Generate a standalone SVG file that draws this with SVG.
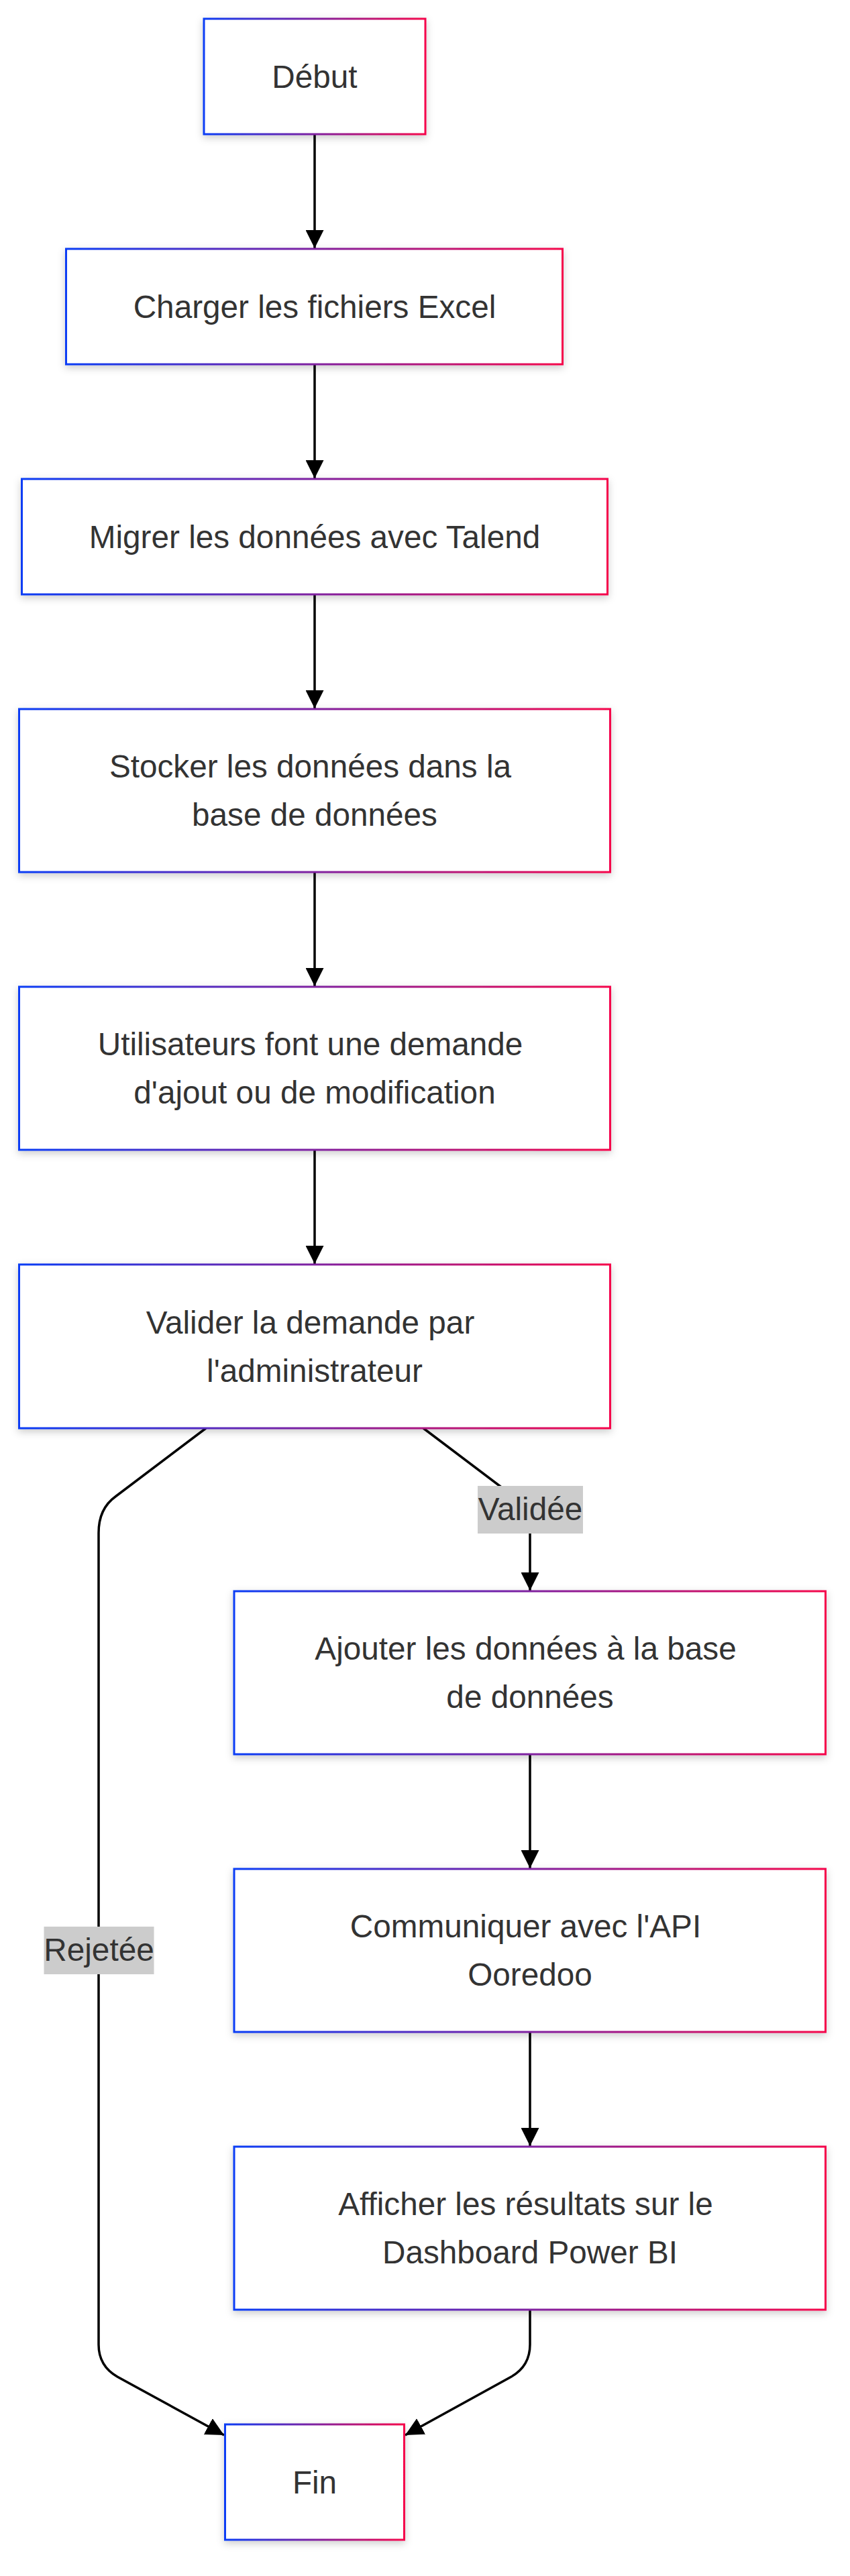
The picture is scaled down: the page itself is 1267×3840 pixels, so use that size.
<svg xmlns="http://www.w3.org/2000/svg" width="1267" height="3840" viewBox="0 0 1267 3840">
<defs>
<linearGradient id="grad" x1="0" y1="0" x2="1" y2="0">
<stop offset="0" stop-color="#0a3cf5"/>
<stop offset="1" stop-color="#f5064b"/>
</linearGradient>
<filter id="shadow" x="-10%" y="-20%" width="120%" height="150%">
<feDropShadow dx="0" dy="4" stdDeviation="6" flood-color="#000" flood-opacity="0.2"/>
</filter>
<marker id="arrow" markerUnits="userSpaceOnUse" viewBox="0 0 10 10" refX="10" refY="5" markerWidth="27" markerHeight="27" orient="auto">
<path d="M0,0 L10,5 L0,10 z" fill="#000"/>
</marker>
</defs>
<style>
.box{fill:#fff;stroke:url(#grad);stroke-width:3;filter:url(#shadow);}
.t{font-family:"Liberation Sans",Arial,Helvetica,sans-serif;font-size:47.7px;fill:#333;text-anchor:middle;}
.edge{fill:none;stroke:#000;stroke-width:3.5;marker-end:url(#arrow);}
.lbl{fill:#ccc;}
</style>
<rect width="1267" height="3840" fill="#fff"/>
<g id="edges">
<path class="edge" d="M469,200 L469,370"/>
<path class="edge" d="M469,543 L469,713"/>
<path class="edge" d="M469,886 L469,1056"/>
<path class="edge" d="M469,1300 L469,1470"/>
<path class="edge" d="M469,1714 L469,1884"/>
<path class="edge" d="M631,2129 L766,2231 Q790,2249 790,2280 L790,2371"/>
<path class="edge" d="M307,2129 L172,2231 Q147,2249 147,2285 L147,3495 Q147,3527 175,3543 L334,3630"/>
<path class="edge" d="M790,2615 L790,2785"/>
<path class="edge" d="M790,3029 L790,3199"/>
<path class="edge" d="M790,3443 L790,3495 Q790,3527 762,3543 L604,3630"/>
</g>
<g id="edge-labels">
<g id="label-validee">
<rect class="lbl" x="712" y="2215" width="157" height="71"/>
<text class="t" x="790.5" y="2266">Validée</text>
</g>
<g id="label-rejetee">
<rect class="lbl" x="65.5" y="2872" width="164" height="71"/>
<text class="t" x="147.5" y="2923">Rejetée</text>
</g>
</g>
<g id="debut">
<rect class="box" x="304" y="28" width="330" height="172"/>
<text class="t" x="469" y="130.5">Début</text>
</g>
<g id="charger">
<rect class="box" x="98.5" y="371" width="740" height="172"/>
<text class="t" x="469" y="473.5">Charger les fichiers Excel</text>
</g>
<g id="migrer">
<rect class="box" x="32.5" y="714" width="873" height="172"/>
<text class="t" x="469" y="816.5">Migrer les données avec Talend</text>
</g>
<g id="stocker">
<rect class="box" x="28.5" y="1057" width="881" height="243"/>
<text class="t" x="462.5" y="1159">Stocker les données dans la</text>
<text class="t" x="469" y="1231">base de données</text>
</g>
<g id="utilisateurs">
<rect class="box" x="28.5" y="1471" width="881" height="243"/>
<text class="t" x="462.5" y="1573">Utilisateurs font une demande</text>
<text class="t" x="469" y="1645">d'ajout ou de modification</text>
</g>
<g id="valider">
<rect class="box" x="28.5" y="1885" width="881" height="244"/>
<text class="t" x="462.5" y="1987.5">Valider la demande par</text>
<text class="t" x="469" y="2059.5">l'administrateur</text>
</g>
<g id="ajouter">
<rect class="box" x="349" y="2372" width="881.5" height="243"/>
<text class="t" x="783.5" y="2474">Ajouter les données à la base</text>
<text class="t" x="790" y="2546">de données</text>
</g>
<g id="communiquer">
<rect class="box" x="349" y="2786" width="881.5" height="243"/>
<text class="t" x="783.5" y="2888">Communiquer avec l'API</text>
<text class="t" x="790" y="2960">Ooredoo</text>
</g>
<g id="afficher">
<rect class="box" x="349" y="3200" width="881.5" height="243"/>
<text class="t" x="783.5" y="3302">Afficher les résultats sur le</text>
<text class="t" x="790" y="3374">Dashboard Power BI</text>
</g>
<g id="fin">
<rect class="box" x="335.5" y="3614" width="267" height="172"/>
<text class="t" x="469" y="3716.5">Fin</text>
</g>
</svg>
